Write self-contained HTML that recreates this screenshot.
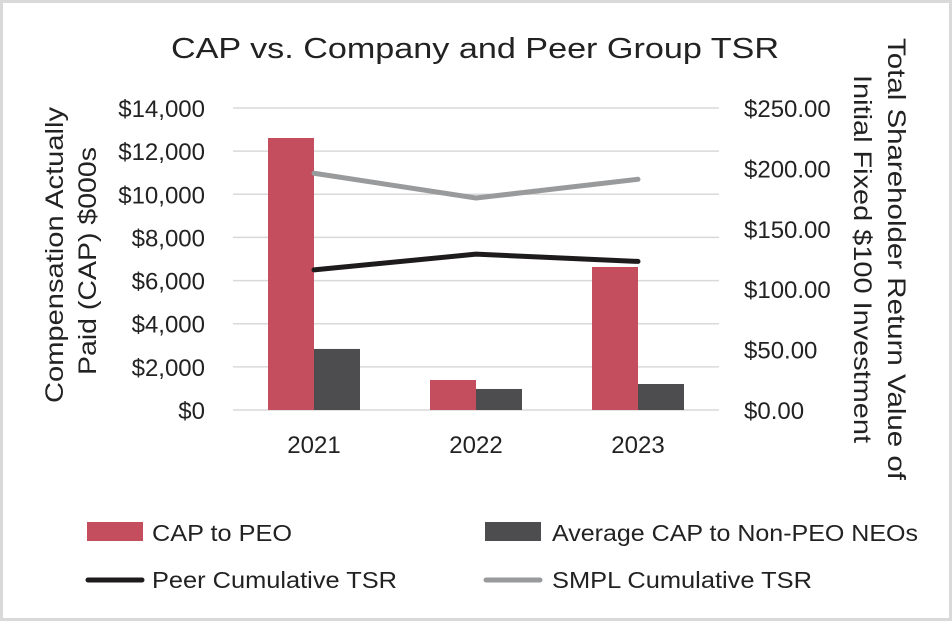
<!DOCTYPE html>
<html><head><meta charset="utf-8"><style>
html,body{margin:0;padding:0;background:#fff}
svg{display:block;font-family:"Liberation Sans",Arial,sans-serif}
</style></head><body>
<svg id="chart" width="952" height="621" viewBox="0 0 952 621">
<rect x="1.5" y="1.5" width="949" height="618" fill="#fff" stroke="#d9d9d9" stroke-width="3"/>
<text x="475" y="58" text-anchor="middle" font-size="29" fill="#222" textLength="608" lengthAdjust="spacingAndGlyphs">CAP vs. Company and Peer Group TSR</text>
<g id="grid"></g>
<g id="bars"></g>
<g id="lines"></g>
<g id="yl"></g>
<g id="yr"></g>
<g id="xl"></g>
<text transform="translate(63,255) rotate(-90)" text-anchor="middle" font-size="25" fill="#222" textLength="296" lengthAdjust="spacingAndGlyphs">Compensation Actually</text>
<text transform="translate(96,261) rotate(-90)" text-anchor="middle" font-size="25" fill="#222" textLength="228" lengthAdjust="spacingAndGlyphs">Paid (CAP) $000s</text>
<text transform="translate(888,259) rotate(90)" text-anchor="middle" font-size="25" fill="#222" textLength="442" lengthAdjust="spacingAndGlyphs">Total Shareholder Return Value of</text>
<text transform="translate(854,259) rotate(90)" text-anchor="middle" font-size="25" fill="#222" textLength="368" lengthAdjust="spacingAndGlyphs">Initial Fixed $100 Investment</text>
<g>
<rect x="87" y="522" width="56" height="19" fill="#c44d5e"/>
<text x="152" y="541" font-size="23" fill="#222" textLength="140" lengthAdjust="spacingAndGlyphs">CAP to PEO</text>
<rect x="485" y="522" width="56" height="19" fill="#4d4d4f"/>
<text x="552" y="541" font-size="23" fill="#222" textLength="366" lengthAdjust="spacingAndGlyphs">Average CAP to Non-PEO NEOs</text>
<line x1="88" y1="580" x2="142" y2="580" stroke="#1e1b1c" stroke-width="5" stroke-linecap="round"/>
<text x="152" y="588" font-size="23" fill="#222" textLength="245" lengthAdjust="spacingAndGlyphs">Peer Cumulative TSR</text>
<line x1="486" y1="580" x2="540" y2="580" stroke="#999a9c" stroke-width="5" stroke-linecap="round"/>
<text x="552" y="588" font-size="23" fill="#222" textLength="260" lengthAdjust="spacingAndGlyphs">SMPL Cumulative TSR</text>
</g>
</svg>
<script>
const categories = ["2021","2022","2023"];
const capPeo = [12610, 1390, 6630];
const capNonPeo = [2830, 975, 1205];
const peerTsr = [116, 129, 123];
const smplTsr = [196, 175.5, 191];
const leftTicks = [0,2000,4000,6000,8000,10000,12000,14000];
const leftTickLabels = ["$0","$2,000","$4,000","$6,000","$8,000","$10,000","$12,000","$14,000"];
const rightTicks = [0,50,100,150,200,250];
const rightTickLabels = ["$0.00","$50.00","$100.00","$150.00","$200.00","$250.00"];

const NS="http://www.w3.org/2000/svg";
const X0=233, X1=719, Y0=410, Y1=108;
const band=(X1-X0)/categories.length;
const yL=v=>Y0-(v/14000)*(Y0-Y1);
const yR=v=>Y0-(v/250)*(Y0-Y1);
const xC=i=>X0+band*(i+0.5);
const barW=46;
function mk(tag,attrs,parent){const e=document.createElementNS(NS,tag);for(const k in attrs)e.setAttribute(k,attrs[k]);document.getElementById(parent).appendChild(e);return e;}

leftTicks.forEach((t,i)=>{
  const g=mk('line',{x1:X0,x2:X1,y1:yL(t),y2:yL(t),stroke:'#d9d9d9','stroke-width':1.5},'grid');
  
  
  const l=mk('text',{x:205,y:yL(t)+9,'text-anchor':'end','font-size':24,fill:'#222'},'yl');
  l.textContent=leftTickLabels[i];
  
  
});
rightTicks.forEach((t,i)=>{
  const l=mk('text',{x:744,y:yR(t)+9,'font-size':24,fill:'#222'},'yr');
  l.textContent=rightTickLabels[i];
  
  
});
categories.forEach((c,i)=>{
  const l=mk('text',{x:xC(i),y:453,'text-anchor':'middle','font-size':24,fill:'#222'},'xl');
  l.textContent=c;
  
  
  const b1=mk('rect',{x:xC(i)-barW,y:yL(capPeo[i]),width:barW,height:Y0-yL(capPeo[i]),fill:'#c44d5e'},'bars');
  
  
  const b2=mk('rect',{x:xC(i),y:yL(capNonPeo[i]),width:barW,height:Y0-yL(capNonPeo[i]),fill:'#4d4d4f'},'bars');
  
  
});
function line(vals,color,name){
  const pts=vals.map((v,i)=>xC(i)+','+yR(v)).join(' ');
  const p=mk('polyline',{points:pts,fill:'none',stroke:color,'stroke-width':5,'stroke-linecap':'round','stroke-linejoin':'round'},'lines');
  
  
}
line(smplTsr,'#999a9c','smpl-tsr-line');
line(peerTsr,'#1e1b1c','peer-tsr-line');
</script>
</body></html>
